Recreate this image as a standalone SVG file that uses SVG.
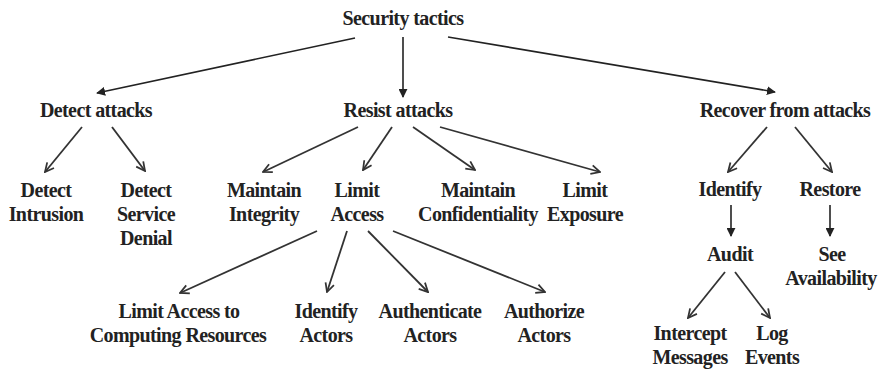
<svg xmlns="http://www.w3.org/2000/svg" width="879" height="373" viewBox="0 0 879 373">
  <defs>
    <marker id="solid" viewBox="0 0 10 10" refX="9" refY="5" markerWidth="9" markerHeight="9" markerUnits="userSpaceOnUse" orient="auto">
      <path d="M0,0 L10,5 L0,10 Z" fill="#222"/>
    </marker>
    <marker id="open" viewBox="0 0 10 10" refX="9" refY="5" markerWidth="11" markerHeight="11" markerUnits="userSpaceOnUse" orient="auto">
      <path d="M1,1 L9,5 L1,9" fill="none" stroke="#333" stroke-width="1.6"/>
    </marker>
    <style>
      text { font-family: "Liberation Serif", "Times New Roman", serif; font-size: 20px; font-weight: bold; fill: #222; text-anchor: middle; letter-spacing: -0.6px; }
      .c1 { stroke: #222; stroke-width: 1.6; fill: none; marker-end: url(#solid); }
      .c2 { stroke: #333; stroke-width: 1.8; fill: none; marker-end: url(#open); }
    </style>
  </defs>
  <rect width="879" height="373" fill="#fff"/>

  <g id="connectors">
    <line class="c1" x1="355" y1="38" x2="97" y2="93"/>
    <line class="c1" x1="403" y1="37" x2="403" y2="97"/>
    <line class="c1" x1="448" y1="37" x2="775" y2="92"/>

    <line class="c2" x1="82" y1="127" x2="45" y2="172"/>
    <line class="c2" x1="112" y1="127" x2="145" y2="171"/>

    <line class="c2" x1="358" y1="127" x2="263" y2="172"/>
    <line class="c2" x1="392" y1="127" x2="363" y2="170"/>
    <line class="c2" x1="413" y1="127" x2="475" y2="170"/>
    <line class="c2" x1="440" y1="127" x2="600" y2="172"/>

    <line class="c2" x1="317" y1="231" x2="180" y2="293"/>
    <line class="c2" x1="347" y1="231" x2="327" y2="292"/>
    <line class="c2" x1="368" y1="231" x2="428" y2="292"/>
    <line class="c2" x1="393" y1="231" x2="545" y2="292"/>

    <line class="c2" x1="767" y1="127" x2="728" y2="172"/>
    <line class="c2" x1="795" y1="127" x2="832" y2="172"/>
    <line class="c1" x1="731" y1="205" x2="731" y2="236"/>
    <line class="c1" x1="830" y1="205" x2="830" y2="236"/>

    <line class="c2" x1="725" y1="272" x2="688" y2="318"/>
    <line class="c2" x1="735" y1="272" x2="770" y2="318"/>
  </g>

  <g id="security-tactics"><text x="403" y="25">Security tactics</text></g>

  <g id="detect-attacks"><text x="96" y="117">Detect attacks</text></g>
  <g id="resist-attacks"><text x="398" y="117">Resist attacks</text></g>
  <g id="recover-from-attacks"><text x="785" y="117">Recover from attacks</text></g>

  <g id="detect-intrusion"><text x="46" y="197">Detect</text><text x="46" y="221">Intrusion</text></g>
  <g id="detect-service-denial"><text x="146" y="197">Detect</text><text x="146" y="221">Service</text><text x="146" y="245">Denial</text></g>

  <g id="maintain-integrity"><text x="264" y="197">Maintain</text><text x="264" y="221">Integrity</text></g>
  <g id="limit-access"><text x="357" y="197">Limit</text><text x="357" y="221">Access</text></g>
  <g id="maintain-confidentiality"><text x="478" y="197">Maintain</text><text x="478" y="221">Confidentiality</text></g>
  <g id="limit-exposure"><text x="585" y="197">Limit</text><text x="585" y="221">Exposure</text></g>

  <g id="limit-access-computing"><text x="179" y="318">Limit Access to</text><text x="178" y="342">Computing Resources</text></g>
  <g id="identify-actors"><text x="326" y="318">Identify</text><text x="326" y="342">Actors</text></g>
  <g id="authenticate-actors"><text x="430" y="318">Authenticate</text><text x="430" y="342">Actors</text></g>
  <g id="authorize-actors"><text x="544" y="318">Authorize</text><text x="544" y="342">Actors</text></g>

  <g id="identify"><text x="730" y="196">Identify</text></g>
  <g id="restore"><text x="830" y="196">Restore</text></g>
  <g id="audit"><text x="730" y="261">Audit</text></g>
  <g id="see-availability"><text x="832" y="261">See</text><text x="831" y="285">Availability</text></g>
  <g id="intercept-messages"><text x="690" y="340">Intercept</text><text x="690" y="364">Messages</text></g>
  <g id="log-events"><text x="772" y="340">Log</text><text x="772" y="364">Events</text></g>
</svg>
